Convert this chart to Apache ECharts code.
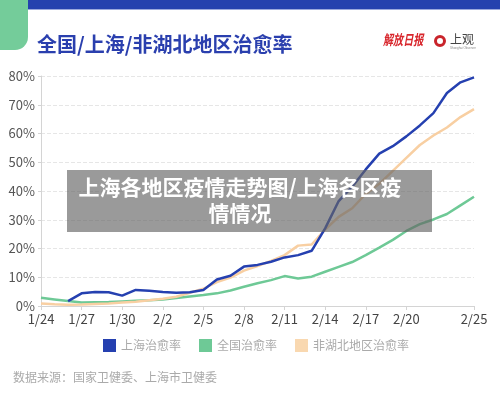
<!DOCTYPE html>
<html>
<head>
<meta charset="utf-8">
<script src="https://cdn.jsdelivr.net/npm/echarts@6/dist/echarts.min.js"></script>
<style>
html,body{margin:0;padding:0;background:#fff;}
#c{width:500px;height:403px;}
</style>
</head>
<body>
<div id="c"></div>
<script>
var dates = ['1/24','1/25','1/26','1/27','1/28','1/29','1/30','1/31','2/1','2/2','2/3','2/4','2/5','2/6','2/7','2/8','2/9','2/10','2/11','2/12','2/13','2/14','2/15','2/16','2/17','2/18','2/19','2/20','2/21','2/22','2/23','2/24','2/25'];
var shanghai = [null,null,1.7,4.4,4.9,4.8,3.6,5.6,5.3,4.9,4.6,4.8,5.6,9.2,10.5,13.7,14.3,15.4,16.9,17.7,19.2,27.0,36.5,41.5,47.5,53.0,55.6,59.0,62.8,67.1,74.1,77.8,79.5];
var national = [2.9,2.3,1.7,1.2,1.3,1.4,1.6,1.8,2.0,2.3,2.8,3.3,3.8,4.4,5.4,6.7,7.9,9.0,10.4,9.6,10.2,11.9,13.6,15.3,17.7,20.3,23.0,26.1,28.5,30.1,32.0,35.0,38.0];
var nonHubei = [0.9,0.6,0.4,0.5,0.7,0.9,1.2,1.5,2.0,2.5,3.2,4.6,6.0,8.3,9.9,12.3,13.9,15.7,17.7,21.0,21.4,26.6,31.0,34.0,39.0,42.5,47.0,51.5,56.0,59.3,62.1,65.7,68.5];
var yTicks = [0,10,20,30,40,50,60,70,80];
var seriesNames = ['上海治愈率','全国治愈率','非湖北地区治愈率'];

var FONT = '"Noto Sans CJK SC", "Noto Sans", sans-serif';
var chart = echarts.init(document.getElementById('c'));
function showLabel(i){ return (i % 3 === 0 && i <= 27) || i === dates.length - 1; }
var option = {
  backgroundColor: '#fff',
  animation: false,
  textStyle: {fontFamily: FONT},
  title: {
    text: '全国/上海/非湖北地区治愈率',
    left: 32, top: 29,
    textStyle: {color: '#2a3fae', fontSize: 20, fontWeight: 'bold', fontFamily: FONT}
  },
  grid: {left: 41, right: 26, top: 76, bottom: 97, containLabel: false},
  legend: {
    data: seriesNames,
    left: 103, top: 339, padding: 0,
    icon: 'rect', itemWidth: 13, itemHeight: 13, itemGap: 18,
    textStyle: {color: '#aaa', fontSize: 12, fontFamily: FONT}
  },
  xAxis: {
    type: 'category', data: dates, boundaryGap: false,
    axisLine: {lineStyle: {color: '#d4d4d4'}},
    axisTick: {interval: function(i){return showLabel(i);}, length: 4, lineStyle: {color: '#d4d4d4'}},
    axisLabel: {interval: function(i){return showLabel(i);}, color: '#444', fontSize: 13, margin: 7, fontFamily: FONT}
  },
  yAxis: {
    type: 'value', min: 0, max: 80, interval: 10,
    axisLine: {show: true, lineStyle: {color: '#d4d4d4'}},
    axisTick: {show: true, length: 3, lineStyle: {color: '#d4d4d4'}},
    axisLabel: {formatter: function(v){ return yTicks.indexOf(v) >= 0 ? v + '%' : ''; }, color: '#555', fontSize: 13, margin: 6, fontFamily: FONT},
    splitLine: {lineStyle: {color: '#e6e6e6', type: 'dashed'}}
  },
  series: [
    {name: seriesNames[1], type: 'line', data: national, symbol: 'none', z: 2,
     itemStyle: {color: '#6ec996'}, lineStyle: {width: 2.5, color: '#6ec996'}},
    {name: seriesNames[2], type: 'line', data: nonHubei, symbol: 'none', z: 3,
     itemStyle: {color: '#f9d8b0'}, lineStyle: {width: 2.5, color: '#f8cfa2'}},
    {name: seriesNames[0], type: 'line', data: shanghai, symbol: 'none', z: 4,
     itemStyle: {color: '#2540b0'}, lineStyle: {width: 2.5, color: '#2540b0'}}
  ],
  graphic: [
    {type: 'rect', shape: {x: 28, y: 0, width: 472, height: 9}, style: {fill: '#2441ae'}, z: 10},
    {type: 'rect', shape: {x: 28, y: 9, width: 472, height: 1}, style: {fill: '#9aa8dc'}, z: 10},
    {type: 'rect', shape: {x: -14, y: -14, width: 42, height: 64, r: [0,0,13,0]}, style: {fill: '#74cc9a'}, z: 11},
    {type: 'text', x: 383, y: 33, scaleX: 0.72, scaleY: 1, style: {text: '解放日报', fill: '#d8262c', font: 'italic bold 14px "Noto Sans CJK SC"'}, z: 10},
    {type: 'circle', shape: {cx: 440, cy: 41, r: 4.5}, style: {fill: 'none', stroke: '#c9242b', lineWidth: 3}, z: 10},
    {type: 'text', left: 450, top: 33, style: {text: '上观', fill: '#444', font: '12px "Noto Sans CJK SC"'}, z: 10},
    {type: 'text', left: 450, top: 47, style: {text: 'Shanghai Observer', fill: '#888', font: '3px sans-serif'}, z: 10},
    {type: 'rect', shape: {x: 67, y: 170, width: 365, height: 62}, style: {fill: 'rgba(100,100,100,0.65)'}, z: 100},
    {type: 'text', x: 240, y: 187, style: {text: '上海各地区疫情走势图/上海各区疫', fill: '#fff', font: 'bold 21px "Noto Sans CJK SC"', textAlign: 'center', textVerticalAlign: 'middle'}, z: 101},
    {type: 'text', x: 240, y: 213, style: {text: '情情况', fill: '#fff', font: 'bold 21px "Noto Sans CJK SC"', textAlign: 'center', textVerticalAlign: 'middle'}, z: 101},
    {type: 'text', left: 13, top: 371, style: {text: '数据来源：国家卫健委、上海市卫健委', fill: '#aaa', font: '12px "Noto Sans CJK SC"'}, z: 10}
  ]
};
chart.setOption(option);
</script>
</body>
</html>
